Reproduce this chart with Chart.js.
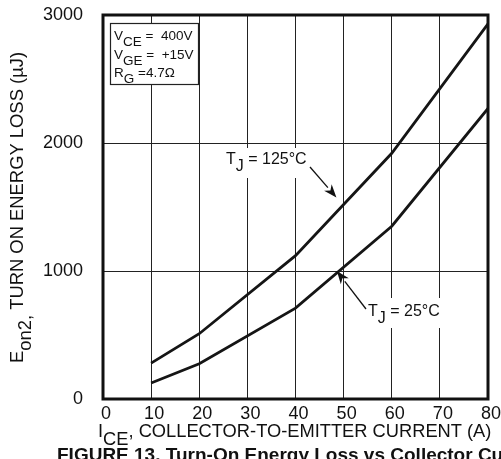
<!DOCTYPE html>
<html>
<head>
<meta charset="utf-8">
<script src="https://cdn.jsdelivr.net/npm/chart.js@4/dist/chart.umd.min.js"></script>
<style>
html,body{margin:0;padding:0;background:#fff;}
#wrap{position:relative;width:501px;height:459px;}
</style>
</head>
<body>
<div id="wrap"><canvas id="c" width="501" height="459"></canvas></div>
<script>
// Data
const currents = [10, 20, 40, 60, 80];               // I_CE (A)
const eon125 = [280, 510, 1120, 1920, 2930];          // T_J = 125°C (µJ)
const eon25  = [125, 275, 710, 1350, 2270];           // T_J = 25°C (µJ)
const xTicks = [0, 10, 20, 30, 40, 50, 60, 70, 80];
const yTicks = [0, 1000, 2000, 3000];

const FONT = '"Liberation Sans", Arial, Helvetica, sans-serif';

function rich(ctx, x, y, parts, size, bold) {
  let cx = x;
  parts.forEach(p => {
    ctx.font = (bold ? 'bold ' : '') + size + 'px ' + FONT;
    const dy = p.sub ? Math.round(size * 0.45) : 0;
    ctx.fillText(p.t, cx, y + dy);
    cx += ctx.measureText(p.t).width;
  });
  return cx - x;
}
function richWidth(ctx, parts, size) {
  let w = 0;
  parts.forEach(p => { ctx.font = size + 'px ' + FONT; w += ctx.measureText(p.t).width; });
  return w;
}
function arrow(ctx, x1, y1, x2, y2) {
  const ang = Math.atan2(y2 - y1, x2 - x1);
  const hl = 13, hw = 5;
  const bx = x2 - hl * Math.cos(ang), by = y2 - hl * Math.sin(ang);
  ctx.beginPath();
  ctx.moveTo(x1, y1); ctx.lineTo(bx, by);
  ctx.lineWidth = 1.3; ctx.strokeStyle = '#111'; ctx.stroke();
  ctx.beginPath();
  ctx.moveTo(x2, y2);
  ctx.lineTo(bx + hw * Math.sin(ang), by - hw * Math.cos(ang));
  ctx.lineTo(x2 - hl * 0.7 * Math.cos(ang), y2 - hl * 0.7 * Math.sin(ang));
  ctx.lineTo(bx - hw * Math.sin(ang), by + hw * Math.cos(ang));
  ctx.closePath(); ctx.fillStyle = '#111'; ctx.fill();
}

const deco = {
  id: 'deco',
  afterDraw(chart) {
    const ctx = chart.ctx, a = chart.chartArea;
    const xs = chart.scales.x, ys = chart.scales.y;
    ctx.save();
    ctx.fillStyle = '#111';
    ctx.textBaseline = 'alphabetic';
    ctx.textAlign = 'left';

    // frame
    ctx.lineWidth = 3; ctx.strokeStyle = '#111';
    ctx.strokeRect(a.left, a.top, a.right - a.left, a.bottom - a.top);

    // condition box
    ctx.fillStyle = '#fff';
    ctx.fillRect(110, 23, 88, 61);
    ctx.lineWidth = 1.2; ctx.strokeStyle = '#222';
    ctx.strokeRect(110.5, 23.5, 88, 61);
    ctx.fillStyle = '#111';
    rich(ctx, 114, 40, [{t:'V'},{t:'CE',sub:true},{t:' =  400V'}], 13.5);
    rich(ctx, 114, 59, [{t:'V'},{t:'GE',sub:true},{t:' =  +15V'}], 13.5);
    rich(ctx, 114, 77, [{t:'R'},{t:'G',sub:true},{t:' =4.7Ω'}], 13.5);

    // T_J = 125°C label
    let p125 = [{t:'T'},{t:'J',sub:true},{t:' = 125°C'}];
    let w = richWidth(ctx, p125, 16);
    ctx.fillStyle = '#fff'; ctx.fillRect(224, 148, w + 4, 30);
    ctx.fillStyle = '#111';
    rich(ctx, 226, 164, p125, 16);
    arrow(ctx, 310, 167, xs.getPixelForValue(48.5), ys.getPixelForValue(1575));

    // T_J = 25°C label
    let p25 = [{t:'T'},{t:'J',sub:true},{t:' = 25°C'}];
    w = richWidth(ctx, p25, 16);
    ctx.fillStyle = '#fff'; ctx.fillRect(366, 298, w + 4, 30);
    ctx.fillStyle = '#111';
    rich(ctx, 368, 316, p25, 16);
    arrow(ctx, 366, 309, xs.getPixelForValue(48.6), ys.getPixelForValue(1000));

    // x-axis title
    ctx.fillStyle = '#111';
    rich(ctx, 98, 437, [{t:'I'},{t:'CE',sub:true},{t:', COLLECTOR-TO-EMITTER CURRENT (A)'}], 18.3);

    // caption
    ctx.font = 'bold 19px ' + FONT;
    ctx.fillText('FIGURE 13. Turn-On Energy Loss vs Collector Current', 57, 461);

    // y-axis title
    ctx.save();
    ctx.translate(23, 363);
    ctx.rotate(-Math.PI / 2);
    rich(ctx, 0, 0, [{t:'E'},{t:'on2,',sub:true},{t:' TURN ON ENERGY LOSS (µJ)'}], 18.4);
    ctx.restore();

    ctx.restore();
  }
};

new Chart(document.getElementById('c'), {
  type: 'line',
  data: {
    datasets: [
      { label: 'TJ = 125°C', data: currents.map((x, i) => ({x, y: eon125[i]})),
        borderColor: '#151515', borderWidth: 2.8, pointRadius: 0, tension: 0, fill: false },
      { label: 'TJ = 25°C', data: currents.map((x, i) => ({x, y: eon25[i]})),
        borderColor: '#151515', borderWidth: 2.8, pointRadius: 0, tension: 0, fill: false }
    ]
  },
  options: {
    responsive: false,
    animation: false,
    devicePixelRatio: 1,
    layout: { padding: { top: 15, right: 13, left: 0, bottom: 0 } },
    plugins: { legend: { display: false }, tooltip: { enabled: false } },
    scales: {
      x: {
        type: 'linear', min: 0, max: 80,
        afterBuildTicks: s => { s.ticks = xTicks.map(v => ({value: v})); },
        afterFit: s => { s.height = 60; s.paddingLeft = 0; s.paddingRight = 0; },
        grid: { color: '#222', lineWidth: 1, drawTicks: false },
        border: { display: false },
        ticks: { color: '#111', font: { family: FONT, size: 18 }, padding: 4, labelOffset: 3, maxRotation: 0, autoSkip: false,
                 callback: v => String(v) }
      },
      y: {
        type: 'linear', min: 0, max: 3000,
        afterBuildTicks: s => { s.ticks = yTicks.map(v => ({value: v})); },
        afterFit: s => { s.width = 103; s.paddingTop = 0; s.paddingBottom = 0; },
        grid: { color: '#222', lineWidth: 1, drawTicks: false },
        border: { display: false },
        ticks: { color: '#111', font: { family: FONT, size: 18 }, padding: 20,
                 callback: v => String(v) }
      }
    }
  },
  plugins: [deco]
});
</script>
</body>
</html>
